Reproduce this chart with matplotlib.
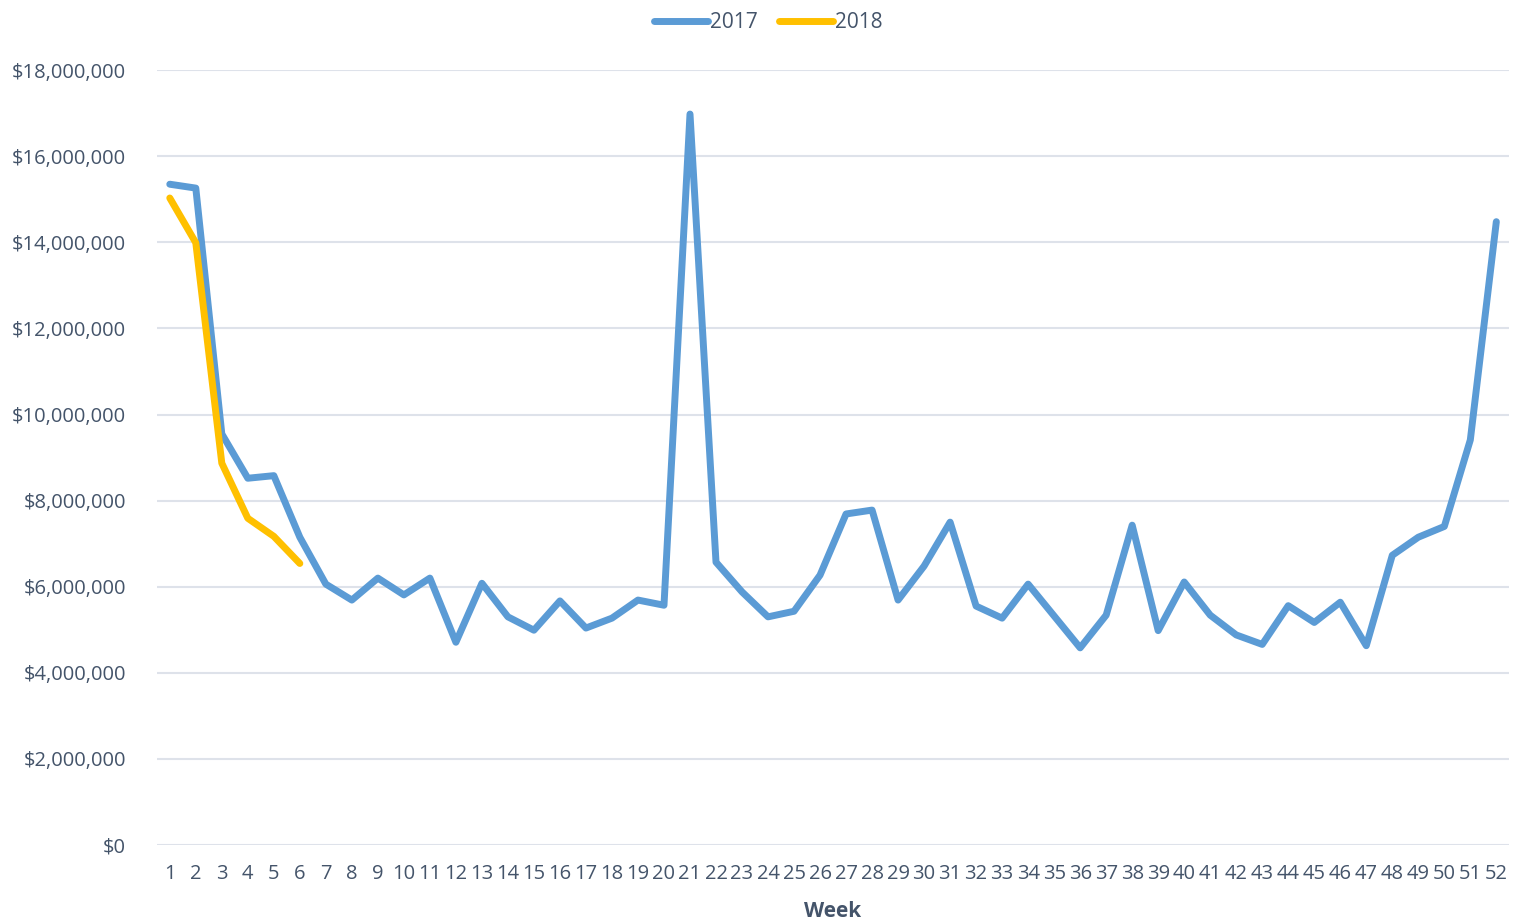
import numpy as np
import matplotlib.pyplot as plt
from matplotlib.ticker import FuncFormatter

weeks = list(range(1, 53))
sales_2017 = [15.35, 15.26, 9.55, 8.52, 8.58, 7.15, 6.06, 5.69, 6.20, 5.81,
              6.20, 4.71, 6.08, 5.30, 4.99, 5.67, 5.04, 5.27, 5.69, 5.57,
              16.98, 6.57, 5.88, 5.30, 5.43, 6.27, 7.69, 7.78, 5.69, 6.48,
              7.50, 5.55, 5.27, 6.06, 5.32, 4.58, 5.34, 7.43, 4.98, 6.11,
              5.34, 4.88, 4.66, 5.56, 5.17, 5.64, 4.63, 6.73, 7.15, 7.40,
              9.41, 14.48]
weeks_2018 = [1, 2, 3, 4, 5, 6]
sales_2018 = [15.03, 13.99, 8.87, 7.59, 7.17, 6.54]

text_color = '#44546A'

plt.rcParams['font.family'] = ['Open Sans', 'DejaVu Sans']

fig = plt.figure(figsize=(15.37, 9.23), dpi=100)
ax = fig.add_axes([0.102, 0.0845, 0.880, 0.8395])

ax.plot(weeks, np.array(sales_2017) * 1e6, color='#5B9BD5', linewidth=5,
        label='2017', solid_joinstyle='round', solid_capstyle='round')
ax.plot(weeks_2018, np.array(sales_2018) * 1e6, color='#FFC000', linewidth=5,
        label='2018', solid_joinstyle='round', solid_capstyle='round')

ax.set_xlim(0.5, 52.5)
ax.set_ylim(0, 18e6)
ax.set_yticks(np.arange(0, 18e6 + 1, 2e6))
ax.yaxis.set_major_formatter(FuncFormatter(lambda v, p: '${:,.0f}'.format(v)))
ax.set_xticks(weeks)
ax.set_xticklabels([str(w) for w in weeks])

ax.grid(axis='y', color='#DEE2EA', linewidth=1.5)
ax.set_axisbelow(True)
for s in ax.spines.values():
    s.set_visible(False)
ax.tick_params(axis='both', length=0, labelsize=14.5, colors=text_color)
ax.tick_params(axis='x', pad=14)
ax.tick_params(axis='y', pad=22)

ax.set_xlabel('Week', fontsize=15, fontweight='bold', color=text_color, labelpad=12)

fig.legend(loc='upper center', bbox_to_anchor=(0.5, 1.0), ncol=2, frameon=False,
           fontsize=15, handlelength=2.6, handletextpad=0.1, columnspacing=1.0,
           labelcolor=text_color, borderaxespad=0.2)

fig.savefig('out.png', dpi=100, facecolor='white')
